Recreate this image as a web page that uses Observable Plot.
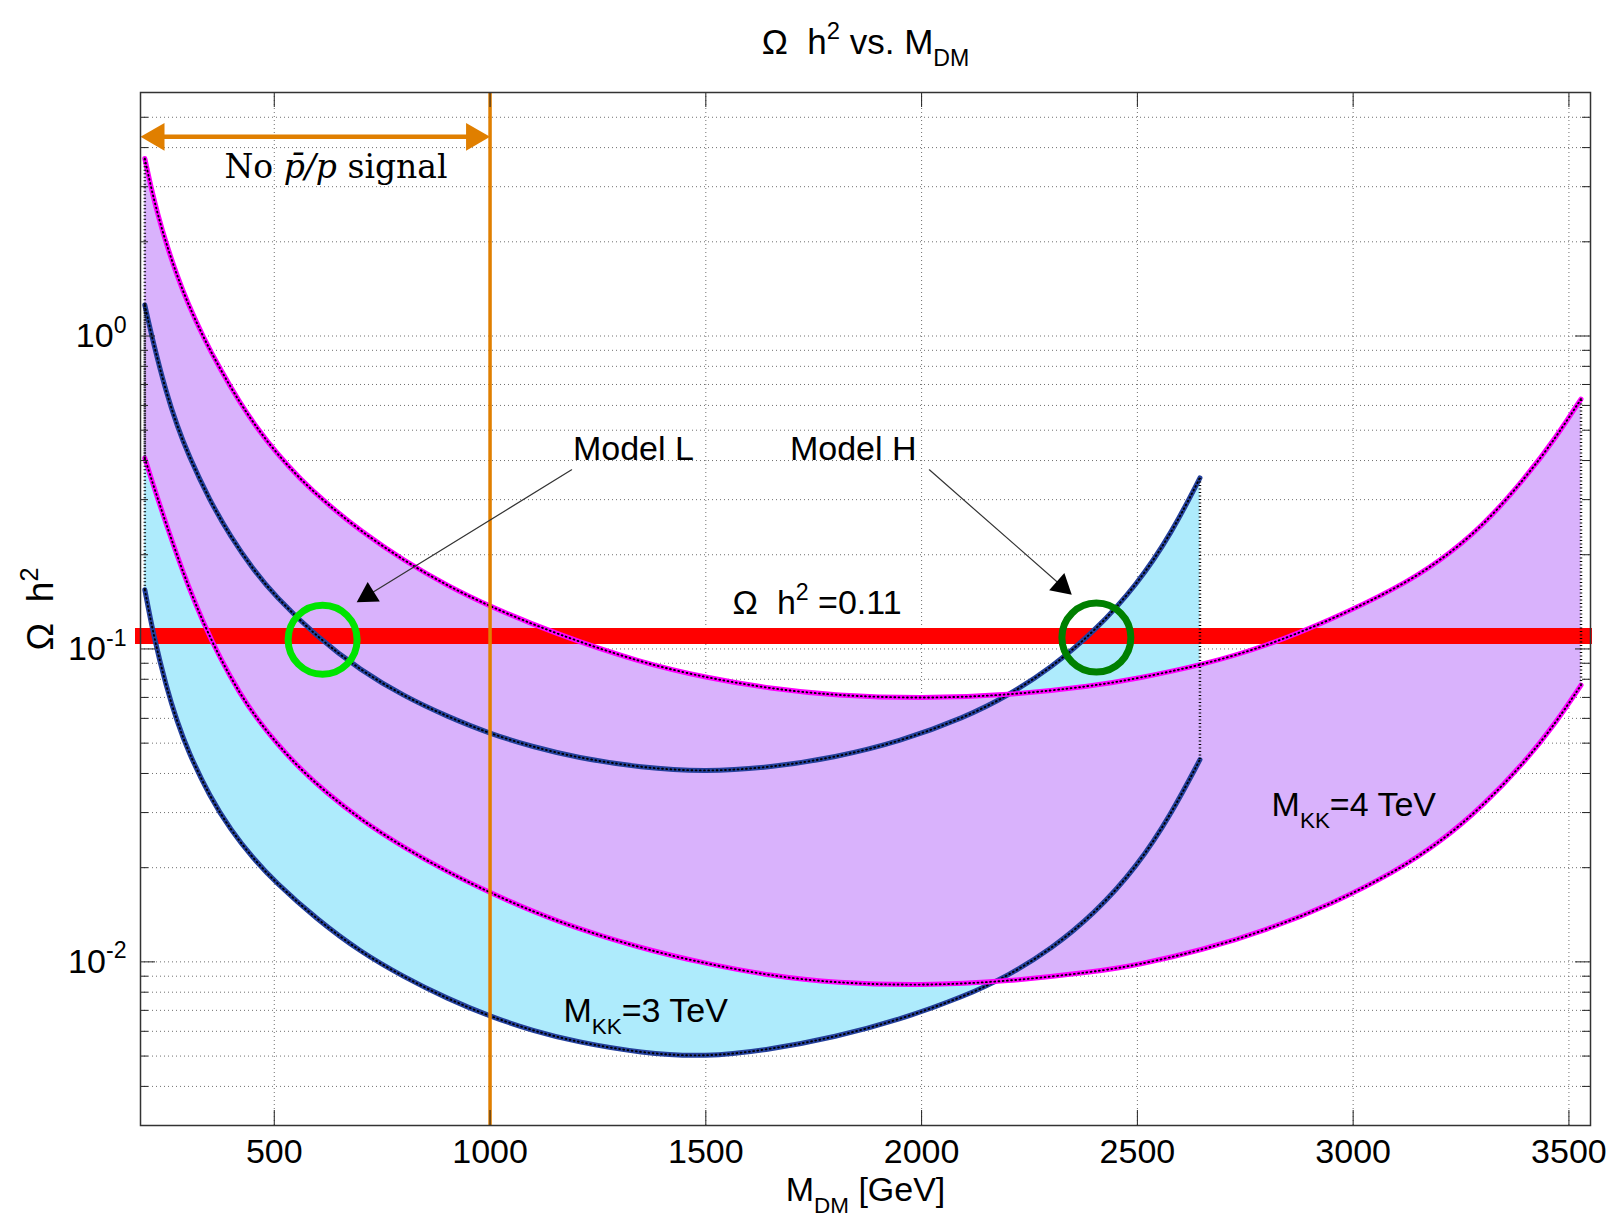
<!DOCTYPE html>
<html>
<head>
<meta charset="utf-8">
<script src="https://cdn.jsdelivr.net/npm/d3@7"></script>
<script src="https://cdn.jsdelivr.net/npm/@observablehq/plot@0.6"></script>
<style>html,body{margin:0;padding:0;background:#fff;}</style>
</head>
<body>
<div id="chart"></div>
<script>
// ---------- data ----------
const xTicks = [500, 1000, 1500, 2000, 2500, 3000, 3500];
const yMajor = [0.01, 0.1, 1];
const yMinor = [0.003, 0.004, 0.005, 0.006, 0.007, 0.008, 0.009,
                0.02, 0.03, 0.04, 0.05, 0.06, 0.07, 0.08, 0.09,
                0.2, 0.3, 0.4, 0.5, 0.6, 0.7, 0.8, 0.9,
                2, 3, 4, 5];

// M_KK = 3 TeV band (blue)
const mkk3X     = [200, 220, 250, 275, 300, 350, 400, 450, 500, 600, 700, 800, 900, 1000, 1100, 1200, 1350, 1500, 1650, 1800, 1950, 2100, 2200, 2300, 2400, 2500, 2580, 2645];
const mkk3Upper = [1.256, 0.945, 0.657, 0.516, 0.420, 0.2985, 0.227, 0.1804, 0.1485, 0.1088, 0.0855, 0.0707, 0.0609, 0.0536, 0.0486, 0.0450, 0.0417, 0.0405, 0.0418, 0.0450, 0.0506, 0.0604, 0.0708, 0.0871, 0.1134, 0.1608, 0.2354, 0.352];
const mkk3Lower = [0.1546, 0.1106, 0.0754, 0.0585, 0.0472, 0.0338, 0.0263, 0.0215, 0.0181, 0.01362, 0.01076, 0.00895, 0.00764, 0.00669, 0.00602, 0.00555, 0.00511, 0.00496, 0.00525, 0.00575, 0.00654, 0.00776, 0.00902, 0.01098, 0.01423, 0.02019, 0.02993, 0.0443];

// M_KK = 4 TeV band (purple)
const mkk4X     = [200, 215, 230, 250, 275, 300, 335, 375, 420, 460, 505, 560, 620, 700, 800, 900, 1000, 1150, 1350, 1500, 1650, 1800, 2000, 2200, 2400, 2500, 2650, 2800, 2950, 3100, 3200, 3300, 3400, 3470, 3528];
const mkk4Upper = [3.69, 2.96, 2.445, 1.965, 1.554, 1.269, 0.994, 0.7815, 0.613, 0.508, 0.4227, 0.349, 0.2926, 0.2381, 0.1917, 0.1595, 0.1366, 0.112, 0.0904, 0.081, 0.0746, 0.071, 0.0694, 0.0711, 0.0762, 0.0805, 0.0888, 0.1022, 0.1242, 0.156, 0.1903, 0.2461, 0.3531, 0.4738, 0.629];
const mkk4Lower = [0.407, 0.350, 0.302, 0.2497, 0.1984, 0.1598, 0.1217, 0.0930, 0.0721, 0.0598, 0.0500, 0.0414, 0.0348, 0.0285, 0.0232, 0.01943, 0.01662, 0.01348, 0.01103, 0.00987, 0.00902, 0.00856, 0.00839, 0.00866, 0.00929, 0.00977, 0.0109, 0.01264, 0.0153, 0.0195, 0.02405, 0.03139, 0.04384, 0.05815, 0.07663];

const omegaObs = 0.11;          // relic density line
const pbarLimit = 1000;         // "No pbar/p signal" limit
const pbarArrowY = 4.33;
const pbarLabel = {t: "No *p\u0304/p* signal", x: 643, y: 3.19};

const circleX = [612, 2405];
const circleY = [0.107, 0.1087];
const circleColor = ["#00e400", "#008000"];

const arrowX1 = [1189, 2018];
const arrowY1 = [0.3736, 0.3736];
const arrowX2 = [691, 2348];
const arrowY2 = [0.141, 0.149];

const labelText = ["Model L", "Model H", "\u03A9\u00a0\u00a0h^{2} =0.11", "M_{KK}=3 TeV", "M_{KK}=4 TeV"];
const labelX = [1192, 1695, 1562, 1170, 2811];
const labelY = [0.402, 0.402, 0.129, 0.00642, 0.0293];

// ---------- layout ----------
const W = 1608, H = 1218, mL = 140, mR = 18, mT = 92, mB = 93;
const fw = W - mL - mR, fh = H - mT - mB;
const xDomain = [190, 3550], yDomain = [0.003, 6];
const sx = d3.scaleLinear(xDomain, [mL, W - mR]);
const sy = d3.scaleLog(yDomain, [H - mB, mT]);

const curve = "basis";
const navy = "#24409c", magenta = "#ff00ff";
const blueFill = "#aeebfc", purpleFill = "#d9b2fc", orange = "#e07f00";

const mkk3 = mkk3X.map((x, i) => ({x, lo: mkk3Lower[i], hi: mkk3Upper[i]}));
const mkk4 = mkk4X.map((x, i) => ({x, lo: mkk4Lower[i], hi: mkk4Upper[i]}));
const edges = [mkk3[0], mkk3[mkk3.length - 1], mkk4[0], mkk4[mkk4.length - 1]];

// arrow head (filled triangle) placement computed through the scales
function head(x1, y1, x2, y2, len) {
  const px1 = sx(x1), py1 = sy(y1), px2 = sx(x2), py2 = sy(y2);
  const a = Math.atan2(py2 - py1, px2 - px1);
  const c = 2 * len / 3;
  return {x: sx.invert(px2 - c * Math.cos(a)), y: sy.invert(py2 - c * Math.sin(a)),
          rotate: a * 180 / Math.PI + 90, r: (len / 3) / 0.7776};
}
const modelArrows = arrowX1.map((x1, i) => ({x1, y1: arrowY1[i], x2: arrowX2[i], y2: arrowY2[i]}));
const modelHeads = modelArrows.map(d => head(d.x1, d.y1, d.x2, d.y2, 20));
const orangeArrow = [{x1: xDomain[0], y1: pbarArrowY, x2: pbarLimit, y2: pbarArrowY}];
const orangeHeads = [head(pbarLimit, pbarArrowY, xDomain[0], pbarArrowY, 24),
                     head(xDomain[0], pbarArrowY, pbarLimit, pbarArrowY, 24)];
const labels = labelText.map((t, i) => ({t, x: labelX[i], y: labelY[i]}));

const curveMarks = (data, key, color) => [
  Plot.line(data, {x: "x", y: key, stroke: color, strokeWidth: 5, curve}),
  Plot.line(data, {x: "x", y: key, stroke: "black", strokeWidth: 1.9, strokeDasharray: "0.8,3.4", curve})
];
const gridStyle = {stroke: "#707070", strokeWidth: 1, strokeDasharray: "1,3"};

const plot = Plot.plot({
  width: W, height: H,
  marginLeft: mL, marginRight: mR, marginTop: mT, marginBottom: mB,
  style: "font-family: 'Liberation Sans', Arial, sans-serif; background: white; color: black;",
  x: {type: "linear", domain: xDomain},
  y: {type: "log", domain: yDomain},
  marks: [
    Plot.ruleX(xTicks, gridStyle),
    Plot.ruleY(yMajor.concat(yMinor), gridStyle),
    Plot.areaY(mkk3, {x: "x", y1: "lo", y2: "hi", fill: blueFill, curve}),
    Plot.areaY(mkk4, {x: "x", y1: "lo", y2: "hi", fill: purpleFill, curve}),
    Plot.ruleY([omegaObs], {stroke: "#ff0000", strokeWidth: 16, insetLeft: -5, insetRight: -2}),
    ...curveMarks(mkk3, "hi", navy),
    ...curveMarks(mkk3, "lo", navy),
    ...curveMarks(mkk4, "hi", magenta),
    ...curveMarks(mkk4, "lo", magenta),
    Plot.ruleX(edges, {x: "x", y1: "lo", y2: "hi", stroke: "black", strokeWidth: 2.5, strokeDasharray: "1,2.5"}),
    Plot.ruleX([pbarLimit], {stroke: orange, strokeWidth: 3.5}),
    Plot.arrow(orangeArrow, {x1: "x1", y1: "y1", x2: "x2", y2: "y2", stroke: orange, strokeWidth: 4.5, headLength: 0, insetStart: 12, insetEnd: 12}),
    Plot.dot(orangeHeads, {x: "x", y: "y", rotate: "rotate", r: orangeHeads[0].r, symbol: "triangle", fill: orange, stroke: "none"}),
    Plot.dot([0], {x: circleX[0], y: circleY[0], r: 34.5, stroke: circleColor[0], strokeWidth: 7, fill: "none"}),
    Plot.dot([0], {x: circleX[1], y: circleY[1], r: 34.5, stroke: circleColor[1], strokeWidth: 7, fill: "none"}),
    Plot.arrow(modelArrows, {x1: "x1", y1: "y1", x2: "x2", y2: "y2", stroke: "#333", strokeWidth: 1.2, headLength: 0, insetEnd: 8}),
    Plot.dot(modelHeads, {x: "x", y: "y", rotate: "rotate", r: modelHeads[0].r, symbol: "triangle", fill: "black", stroke: "none"}),
    Plot.text(labels, {x: "x", y: "y", text: "t", textAnchor: "start", lineAnchor: "bottom", fontSize: 34, fill: "black"}),
    Plot.text([pbarLabel], {x: "x", y: "y", text: "t", textAnchor: "middle", lineAnchor: "bottom", fontSize: 33, fontFamily: "'DejaVu Serif', serif", fill: "black"}),
    // ticks (inward, MATLAB style)
    Plot.ruleX(xTicks, {insetTop: fh - 15, stroke: "#222"}),
    Plot.ruleX(xTicks, {insetBottom: fh - 15, stroke: "#222"}),
    Plot.ruleY(yMajor, {insetRight: fw - 15, stroke: "#222"}),
    Plot.ruleY(yMajor, {insetLeft: fw - 15, stroke: "#222"}),
    Plot.ruleY(yMinor, {insetRight: fw - 8, stroke: "#222"}),
    Plot.ruleY(yMinor, {insetLeft: fw - 8, stroke: "#222"}),
    Plot.frame({stroke: "#333", strokeWidth: 1.5}),
    Plot.axisX({ticks: xTicks, tickFormat: d => `${d}`, tickSize: 0, tickPadding: 13, fontSize: 34, label: null}),
    Plot.axisY({ticks: yMajor, tickFormat: d => `10^{${Math.round(Math.log10(d))}}`, tickSize: 0, tickPadding: 14, fontSize: 34, label: null}),
    // title & axis labels
    Plot.text([{t: "\u03A9\u00a0\u00a0h^{2} vs. M_{DM}"}], {text: "t", frameAnchor: "top", dy: -39, lineAnchor: "bottom", fontSize: 35, fill: "black"}),
    Plot.text([{t: "M_{DM} [GeV]"}], {text: "t", frameAnchor: "bottom", dy: 75, lineAnchor: "bottom", fontSize: 34, fill: "black"}),
    Plot.text([{t: "\u03A9\u00a0\u00a0h^{2}"}], {text: "t", frameAnchor: "left", dx: -99, rotate: -90, textAnchor: "middle", lineAnchor: "middle", fontSize: 37, fill: "black"})
  ]
});

document.getElementById("chart").appendChild(plot);

// rich text: ^{sup}, _{sub}, *italic*
function enrich(root) {
  root.querySelectorAll("text").forEach(el => {
    const s = el.textContent;
    if (!/\^\{|_\{|\*/.test(s)) return;
    const fs = parseFloat(getComputedStyle(el).fontSize);
    const parts = s.split(/(\^\{[^}]*\}|_\{[^}]*\}|\*[^*]*\*)/).filter(p => p !== "");
    el.textContent = "";
    el.style.whiteSpace = "pre";
    let shift = 0;
    for (const p of parts) {
      let txt = p, target = 0, size = null, italic = false;
      if (p.startsWith("^{")) { txt = p.slice(2, -1); target = -0.42 * fs; size = 0.68 * fs; }
      else if (p.startsWith("_{")) { txt = p.slice(2, -1); target = 0.36 * fs; size = 0.66 * fs; }
      else if (p.startsWith("*")) { txt = p.slice(1, -1); italic = true; }
      const t = document.createElementNS("http://www.w3.org/2000/svg", "tspan");
      t.textContent = txt;
      if (target !== shift) t.setAttribute("dy", (target - shift).toFixed(2));
      shift = target;
      if (size) t.setAttribute("font-size", size.toFixed(2));
      if (italic) t.setAttribute("font-style", "italic");
      el.appendChild(t);
    }
  });
}
enrich(plot);
</script>
</body>
</html>
